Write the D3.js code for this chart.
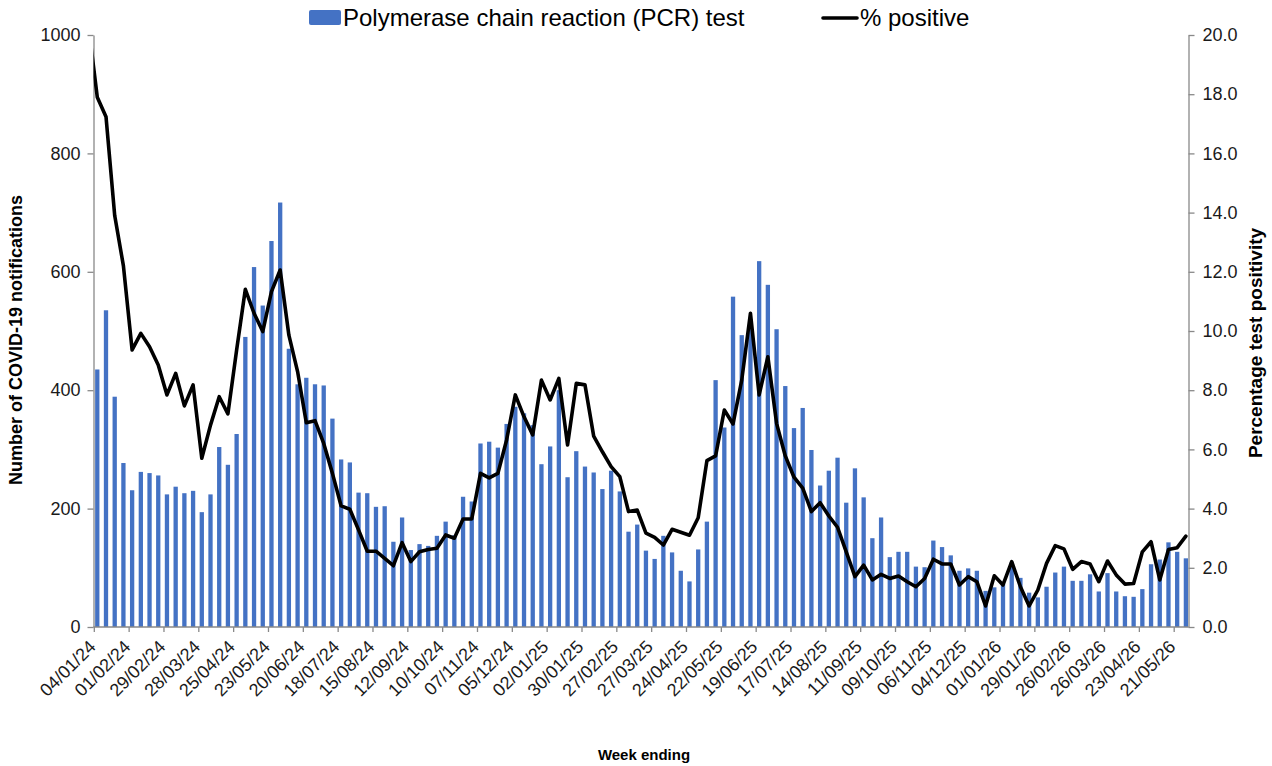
<!DOCTYPE html>
<html>
<head>
<meta charset="utf-8">
<script src="https://cdn.jsdelivr.net/npm/d3@7"></script>
<style>
  html, body { margin: 0; padding: 0; background: #ffffff; }
  svg { display: block; font-family: "Liberation Sans", Arial, sans-serif; }
</style>
</head>
<body>
<svg id="chart" width="1272" height="766"></svg>
<script>
// Week-ending dates (first entry is the week before the visible range; only its line segment enters the plot)
const weeks = [
  "28/12/23",
  "04/01/24","11/01/24","18/01/24","25/01/24","01/02/24","08/02/24","15/02/24","22/02/24","29/02/24",
  "07/03/24","14/03/24","21/03/24","28/03/24","04/04/24","11/04/24","18/04/24","25/04/24",
  "02/05/24","09/05/24","16/05/24","23/05/24","30/05/24","06/06/24","13/06/24","20/06/24","27/06/24",
  "04/07/24","11/07/24","18/07/24","25/07/24","01/08/24","08/08/24","15/08/24","22/08/24","29/08/24",
  "05/09/24","12/09/24","19/09/24","26/09/24","03/10/24","10/10/24","17/10/24","24/10/24","31/10/24",
  "07/11/24","14/11/24","21/11/24","28/11/24","05/12/24","12/12/24","19/12/24","26/12/24",
  "02/01/25","09/01/25","16/01/25","23/01/25","30/01/25","06/02/25","13/02/25","20/02/25","27/02/25",
  "06/03/25","13/03/25","20/03/25","27/03/25","03/04/25","10/04/25","17/04/25","24/04/25",
  "01/05/25","08/05/25","15/05/25","22/05/25","29/05/25","05/06/25","12/06/25","19/06/25","26/06/25",
  "03/07/25","10/07/25","17/07/25","24/07/25","31/07/25","07/08/25","14/08/25","21/08/25","28/08/25",
  "04/09/25","11/09/25","18/09/25","25/09/25","02/10/25","09/10/25","16/10/25","23/10/25","30/10/25",
  "06/11/25","13/11/25","20/11/25","27/11/25","04/12/25","11/12/25","18/12/25","25/12/25",
  "01/01/26","08/01/26","15/01/26","22/01/26","29/01/26","05/02/26","12/02/26","19/02/26","26/02/26",
  "05/03/26","12/03/26","19/03/26","26/03/26","02/04/26","09/04/26","16/04/26","23/04/26","30/04/26",
  "07/05/26","14/05/26","21/05/26","28/05/26"
];

// PCR test notifications (null for the lead-in week, which lies outside the axis range)
const pcrTests = [
  null,
  435,535,389,277,231,262,260,256,224,237,226,230,194,224,304,274,326,490,608,543,
  652,717,470,410,421,410,408,352,283,278,227,226,203,204,144,185,130,140,137,154,
  178,155,220,212,310,313,303,343,372,361,341,275,305,400,253,297,271,261,233,264,
  229,161,173,129,115,154,126,95,77,131,178,417,337,558,493,520,618,578,503,407,
  336,370,299,239,264,286,210,268,219,150,185,118,127,127,102,101,146,135,121,95,
  99,95,61,67,73,109,83,58,50,68,92,102,78,78,89,60,91,60,52,51,
  64,106,114,143,127,116
];

// % positive
const pctPositive = [
  20.3,
  17.9,17.24,13.9,12.2,9.36,9.92,9.47,8.85,7.84,8.57,7.47,8.18,5.70,6.82,7.78,7.2,9.36,11.41,10.6,9.98,
  11.33,12.06,9.86,8.63,6.9,6.97,6.2,5.19,4.09,3.98,3.28,2.56,2.56,2.32,2.07,2.85,2.21,2.54,2.62,2.66,
  3.11,3.0,3.65,3.65,5.19,5.04,5.19,6.32,7.84,7.1,6.49,8.34,7.67,8.4,6.15,8.23,8.18,6.45,5.92,5.42,
  5.08,3.9,3.95,3.17,3.03,2.77,3.3,3.2,3.1,3.69,5.62,5.78,7.33,6.86,8.34,10.6,7.84,9.13,6.88,5.78,
  5.06,4.69,3.9,4.2,3.75,3.37,2.54,1.7,2.09,1.59,1.78,1.64,1.72,1.53,1.36,1.64,2.29,2.13,2.13,1.42,
  1.7,1.53,0.71,1.73,1.42,2.21,1.36,0.71,1.25,2.15,2.75,2.64,1.95,2.21,2.13,1.53,2.23,1.76,1.45,1.47,
  2.54,2.88,1.59,2.62,2.68,3.07
];

const xTickLabels = [
  "04/01/24","01/02/24","29/02/24","28/03/24","25/04/24","23/05/24","20/06/24","18/07/24",
  "15/08/24","12/09/24","10/10/24","07/11/24","05/12/24","02/01/25","30/01/25","27/02/25",
  "27/03/25","24/04/25","22/05/25","19/06/25","17/07/25","14/08/25","11/09/25","09/10/25",
  "06/11/25","04/12/25","01/01/26","29/01/26","26/02/26","26/03/26","23/04/26","21/05/26"
];
const leftTicks = [0, 200, 400, 600, 800, 1000];
const rightTicks = [0, 2, 4, 6, 8, 10, 12, 14, 16, 18, 20];

const seriesNames = ["Polymerase chain reaction (PCR) test", "% positive"];
const axisTitles = { left: "Number of COVID-19 notifications", right: "Percentage test positivity", bottom: "Week ending" };

// ---------- layout ----------
const W = 1272, H = 766;
const plot = { left: 93.5, right: 1188.5, top: 35, bottom: 627 };
const BAR = "#4472C4", AXIS = "#898989";
const TICK_FONT = 18;

const svg = d3.select("#chart");

const x = d3.scaleLinear().domain([0.565, 126.3]).range([plot.left, plot.right]);
const yL = d3.scaleLinear().domain([0, 1000]).range([plot.bottom, plot.top]);
const yR = d3.scaleLinear().domain([0, 20]).range([plot.bottom, plot.top]);

svg.append("defs").append("clipPath").attr("id", "plotClip")
  .append("rect")
  .attr("x", plot.left).attr("y", plot.top - 10)
  .attr("width", plot.right - plot.left + 1).attr("height", plot.bottom - plot.top + 10);

// ---------- bars ----------
const barW = 4.3;
const barData = weeks.map((w, i) => ({ i, v: pcrTests[i] })).filter(d => d.v != null);
svg.append("g").attr("clip-path", "url(#plotClip)")
  .selectAll("rect").data(barData).enter().append("rect")
  .attr("x", d => x(d.i) - barW / 2)
  .attr("y", d => yL(d.v))
  .attr("width", barW)
  .attr("height", d => yL(0) - yL(d.v))
  .attr("fill", BAR);

// ---------- axes ----------
function styleAxis(g) {
  g.select(".domain").attr("stroke", AXIS).attr("stroke-width", 1.3);
  g.selectAll(".tick line").attr("stroke", AXIS).attr("stroke-width", 1.3);
  g.selectAll(".tick text").attr("fill", "#1a1a1a").attr("font-size", TICK_FONT)
    .attr("font-family", '"Liberation Sans", Arial, sans-serif');
}

svg.append("g").attr("transform", `translate(${plot.left},0)`)
  .call(d3.axisLeft(yL).tickValues(leftTicks).tickSize(6).tickPadding(7).tickSizeOuter(0).tickFormat(d3.format("d")))
  .call(styleAxis);

svg.append("g").attr("transform", `translate(${plot.right},0)`)
  .call(d3.axisRight(yR).tickValues(rightTicks).tickSize(6).tickPadding(8).tickSizeOuter(0).tickFormat(d3.format(".1f")))
  .call(styleAxis);

// bottom axis: tick marks on week boundaries every 4 weeks
const tickIdx = xTickLabels.map(l => weeks.indexOf(l));
const xAxisG = svg.append("g").attr("transform", `translate(0,${plot.bottom})`)
  .call(d3.axisBottom(x).tickValues(tickIdx.map(i => i - 0.4)).tickSize(5).tickSizeOuter(0).tickFormat(""))
  .call(styleAxis);
xAxisG.select(".domain").attr("d", `M${plot.left},0H${plot.right}`);

svg.append("g").selectAll("text").data(xTickLabels).enter().append("text")
  .attr("transform", (d, k) => `translate(${x(tickIdx[k] - 0.4) + 3},${plot.bottom + 21}) rotate(-45)`)
  .attr("text-anchor", "end")
  .attr("font-size", TICK_FONT)
  .attr("fill", "#1a1a1a")
  .text(d => d);

// ---------- line ----------
const line = d3.line()
  .x((d, i) => x(i))
  .y(d => yR(d));
svg.append("path")
  .attr("clip-path", "url(#plotClip)")
  .attr("d", line(pctPositive))
  .attr("fill", "none")
  .attr("stroke", "#000")
  .attr("stroke-width", 3.6)
  .attr("stroke-linejoin", "round")
  .attr("stroke-linecap", "round");

// ---------- axis titles ----------
const midY = (plot.top + plot.bottom) / 2;
svg.append("text")
  .attr("transform", `translate(22,${midY + 9}) rotate(-90)`)
  .attr("text-anchor", "middle")
  .attr("font-size", 18).attr("font-weight", "bold").attr("fill", "#000")
  .text(axisTitles.left);

svg.append("text")
  .attr("transform", `translate(1262,${midY + 12}) rotate(-90)`)
  .attr("text-anchor", "middle")
  .attr("font-size", 19).attr("font-weight", "bold").attr("fill", "#000")
  .text(axisTitles.right);

svg.append("text")
  .attr("x", 644).attr("y", 760)
  .attr("text-anchor", "middle")
  .attr("font-size", 15).attr("font-weight", "bold").attr("fill", "#000")
  .text(axisTitles.bottom);

// ---------- legend ----------
const lg = svg.append("g");
lg.append("rect").attr("x", 309).attr("y", 10).attr("width", 32).attr("height", 15)
  .attr("rx", 2).attr("fill", BAR);
lg.append("text").attr("x", 343).attr("y", 26).attr("font-size", 24).attr("fill", "#000")
  .text(seriesNames[0]);
lg.append("line").attr("x1", 823).attr("x2", 857).attr("y1", 18).attr("y2", 18)
  .attr("stroke", "#000").attr("stroke-width", 3.6).attr("stroke-linecap", "round");
lg.append("text").attr("x", 860).attr("y", 26).attr("font-size", 24).attr("fill", "#000")
  .text(seriesNames[1]);
</script>
</body>
</html>
